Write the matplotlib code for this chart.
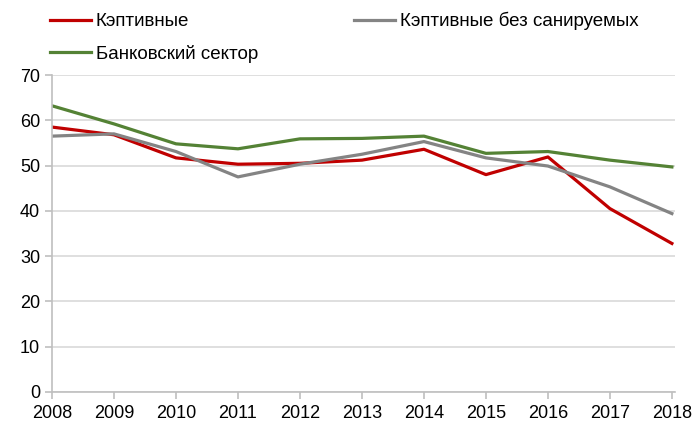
import matplotlib
matplotlib.use("Agg")
import matplotlib.pyplot as plt

plt.rcParams['font.family'] = ['Liberation Sans', 'DejaVu Sans']

years = [2008, 2009, 2010, 2011, 2012, 2013, 2014, 2015, 2016, 2017, 2018]
captive = [58.5, 56.8, 51.7, 50.3, 50.5, 51.2, 53.6, 48.0, 51.9, 40.5, 32.8]
captive_ex = [56.5, 57.0, 53.1, 47.5, 50.3, 52.5, 55.3, 51.7, 49.9, 45.3, 39.4]
bank_sector = [63.2, 59.2, 54.8, 53.7, 55.9, 56.0, 56.5, 52.7, 53.1, 51.2, 49.7]

W, H = 696, 421
fig = plt.figure(figsize=(W / 100, H / 100), dpi=100)
ax = fig.add_axes([52 / W, 1 - 392 / H, (675 - 52) / W, (392 - 75) / H])

l1, = ax.plot(years, captive, color='#C00000', lw=2.3, label='Кэптивные')
l2, = ax.plot(years, captive_ex, color='#848484', lw=2.3, label='Кэптивные без санируемых')
l3, = ax.plot(years, bank_sector, color='#548235', lw=2.3, label='Банковский сектор')

ax.set_xlim(2008, 2018.05)
ax.set_ylim(0, 70)
ax.set_xticks(years)
ax.set_yticks(range(0, 71, 10))
ax.yaxis.grid(True, color='#d9d9d9', lw=1.2)
ax.set_axisbelow(True)
for s in ['top', 'right']:
    ax.spines[s].set_visible(False)
for s in ['left', 'bottom']:
    ax.spines[s].set_color('#bfbfbf')
    ax.spines[s].set_linewidth(1.2)
ax.tick_params(axis='both', colors='#bfbfbf', length=5, width=1.2, labelcolor='black', labelsize=13)
ax.tick_params(axis='x', pad=4)

# legend: first column red + green, second column gray
fig.legend(handles=[l1, l3, l2], loc='upper left', bbox_to_anchor=(50 / W, 1 - 12 / H),
           ncol=2, frameon=False, fontsize=13.5, handlelength=2.2, handletextpad=0.25,
           columnspacing=5.1, labelspacing=0.78, borderaxespad=0, borderpad=0)

fig.savefig('out.png', dpi=100)
